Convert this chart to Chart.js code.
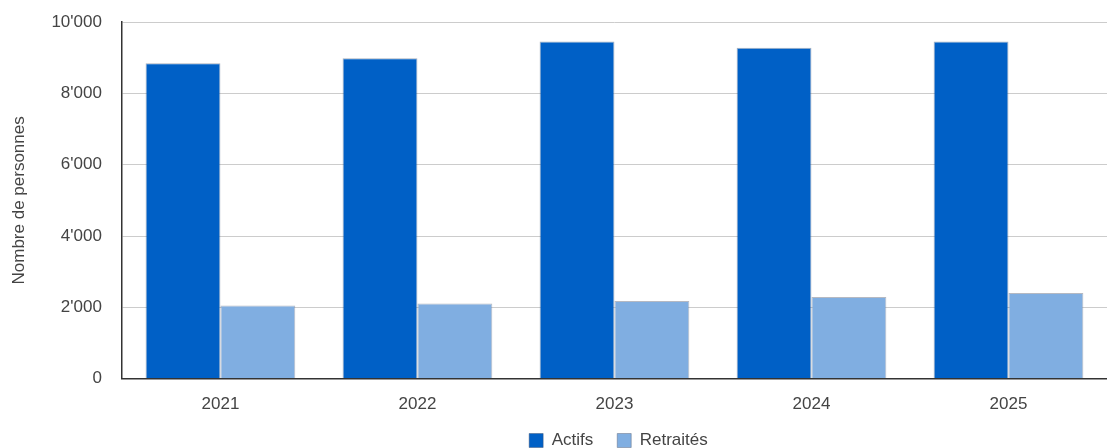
<!DOCTYPE html>
<html>
<head>
<meta charset="utf-8">
<script src="https://cdn.jsdelivr.net/npm/chart.js@4"></script>
<style>
    body { margin: 0; background: #fff; }
    #frame { width: 1107px; height: 448px; position: relative; overflow: hidden; }
    /* canvas a bit taller and pulled up so the plot can start near the top */
    #wrap { width: 1107px; height: 456px; position: absolute; left: 0; top: -8px; }
</style>
</head>
<body>
<div id="frame"><div id="wrap"><canvas id="chart"></canvas></div></div>
<script>
const years = ['2021', '2022', '2023', '2024', '2025'];
const actifs = [8850, 8990, 9460, 9280, 9460];
const retraites = [2050, 2110, 2180, 2290, 2400];
const seriesNames = ['Actifs', 'Retraités'];
const yTicks = [0, 2000, 4000, 6000, 8000, 10000];

// format 10000 -> 10'000
const fmt = (v) => String(v).replace(/\B(?=(\d{3})+(?!\d))/g, "'");

// centre the legend on the plot area and pull it up under the axis labels
const legendOnPlot = {
    id: 'legendOnPlot',
    afterLayout(chart) {
        const lg = chart.legend;
        const area = chart.chartArea;
        lg.left = area.left + 4;
        lg.right = area.right + 4;
        lg.top -= 15;
        lg.bottom -= 15;
    }
};

Chart.defaults.font.family = '"Liberation Sans", Arial, sans-serif';
Chart.defaults.color = '#444';

new Chart(document.getElementById('chart'), {
    type: 'bar',
    data: {
        labels: years,
        datasets: [
            {
                label: seriesNames[0],
                data: actifs,
                backgroundColor: '#0060c6',
                borderColor: 'rgba(60,80,110,0.45)',
                borderWidth: 1
            },
            {
                label: seriesNames[1],
                data: retraites,
                backgroundColor: '#80aee1',
                borderColor: 'rgba(90,100,120,0.45)',
                borderWidth: 1
            }
        ]
    },
    options: {
        responsive: true,
        maintainAspectRatio: false,
        animation: false,
        layout: { padding: { top: 0, right: 0, left: 5, bottom: -26 } },
        datasets: {
            bar: { categoryPercentage: 0.76, barPercentage: 1 }
        },
        plugins: {
            legend: {
                position: 'bottom',
                labels: {
                    boxWidth: 14,
                    boxHeight: 14,
                    padding: 24,
                    font: { size: 17 },
                    color: '#444'
                }
            },
            tooltip: { enabled: false }
        },
        scales: {
            x: {
                grid: { display: false },
                border: { color: '#333', width: 1.5 },
                ticks: { font: { size: 17 }, padding: 8 }
            },
            y: {
                min: 0,
                max: 10000,
                afterBuildTicks(axis) {
                    axis.ticks = yTicks.map(v => ({ value: v }));
                },
                grid: { color: '#cccccc', drawTicks: false },
                border: { color: '#333', width: 1.5 },
                ticks: {
                    font: { size: 17 },
                    padding: 20,
                    callback: (v) => fmt(v)
                },
                title: {
                    display: true,
                    text: 'Nombre de personnes',
                    font: { size: 17 },
                    color: '#444',
                    padding: { bottom: 2 }
                }
            }
        }
    },
    plugins: [legendOnPlot]
});
</script>
</body>
</html>
